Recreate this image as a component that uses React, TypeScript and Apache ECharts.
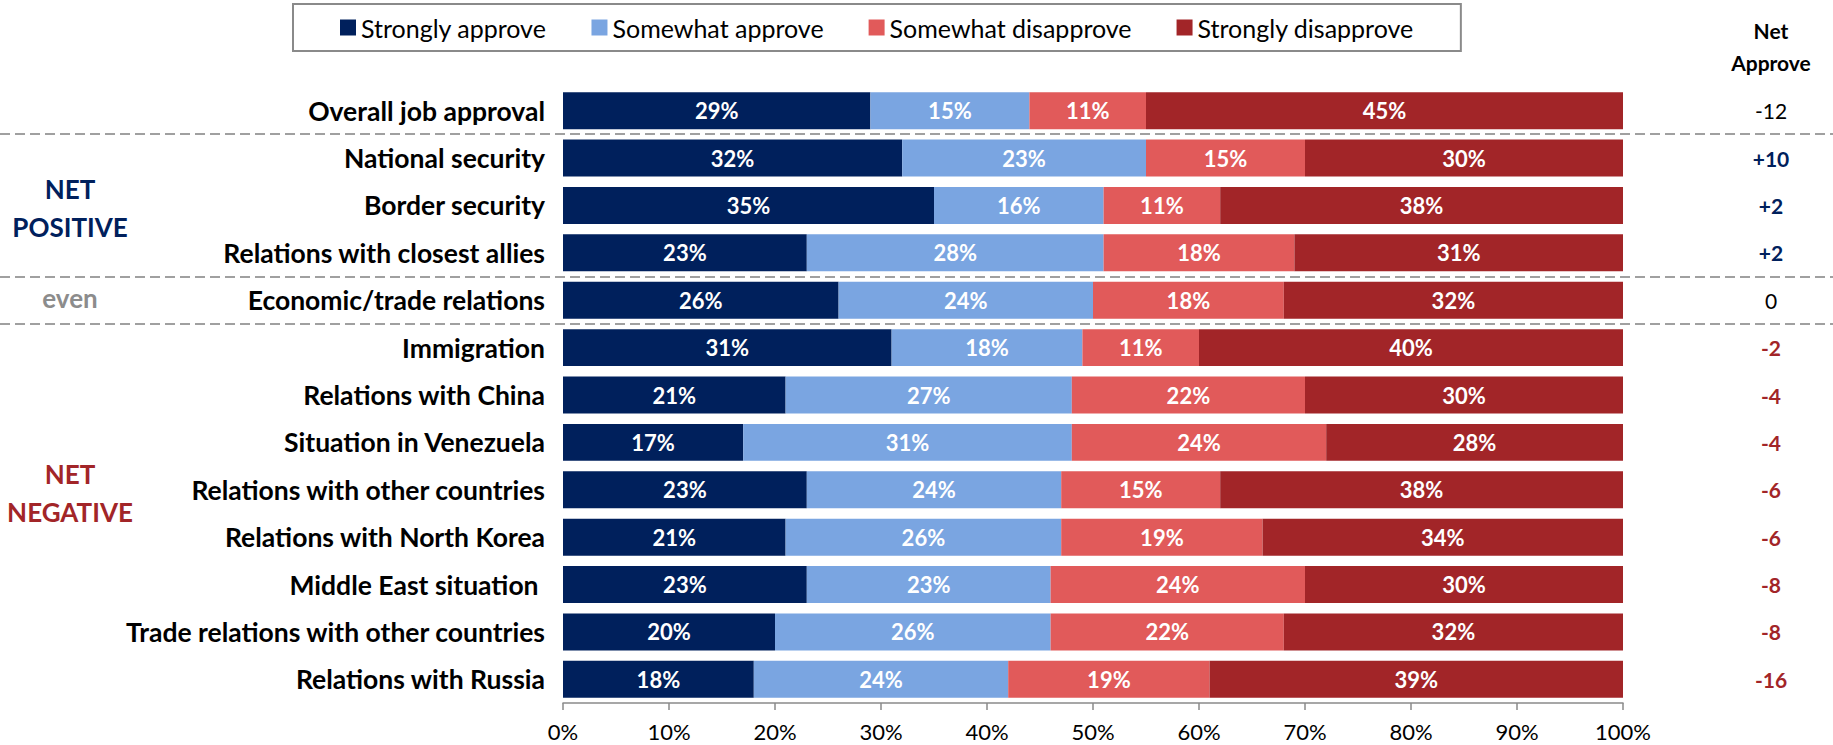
import React, { useEffect, useRef } from "react";
import * as echarts from "echarts";

const categories = [
  "Overall job approval",
  "National security",
  "Border security",
  "Relations with closest allies",
  "Economic/trade relations",
  "Immigration",
  "Relations with China",
  "Situation in Venezuela",
  "Relations with other countries",
  "Relations with North Korea",
  "Middle East situation ",
  "Trade relations with other countries",
  "Relations with Russia",
];
const stronglyApprove = [29, 32, 35, 23, 26, 31, 21, 17, 23, 21, 23, 20, 18];
const somewhatApprove = [15, 23, 16, 28, 24, 18, 27, 31, 24, 26, 23, 26, 24];
const somewhatDisapprove = [11, 15, 11, 18, 18, 11, 22, 24, 15, 19, 24, 22, 19];
const stronglyDisapprove = [45, 30, 38, 31, 32, 40, 30, 28, 38, 34, 30, 32, 39];
const netApprove = [-12, 10, 2, 2, 0, -2, -4, -4, -6, -6, -8, -8, -16];
const seriesNames = ["Strongly approve", "Somewhat approve", "Somewhat disapprove", "Strongly disapprove"];
const seriesColors = ["#00205C", "#7AA5E1", "#E15A5A", "#A22528"];
const separatorAfterRows = [0, 3, 4];
const groupLabels = [
  { text: "NET\nPOSITIVE", row: 2, color: "#00205C", dy: 3 },
  { text: "even", row: 4, color: "#8C8C8C", dy: -2 },
  { text: "NET\nNEGATIVE", row: 8, color: "#A22528", dy: 3 },
];

const FONT = "Lato, 'Open Sans', sans-serif";

export default function App() {
  const ref = useRef<HTMLDivElement>(null);
  useEffect(() => {
    document.body.style.margin = "0";
    const chart = echarts.init(ref.current!, null, { renderer: "svg" });
    const values = [stronglyApprove, somewhatApprove, somewhatDisapprove, stronglyDisapprove];
    const netLabels = netApprove.map((v) => (v > 0 ? "+" + v : String(v)));
    chart.setOption({
      animation: false,
      textStyle: { fontFamily: FONT },
      legend: {
        data: seriesNames,
        left: 293,
        top: 4,
        padding: [11, 47],
        borderColor: "#8A8A8A",
        borderWidth: 2,
        icon: "rect",
        itemWidth: 16,
        itemHeight: 16,
        itemGap: 45,
        selectedMode: false,
        textStyle: { fontSize: 25, color: "#000", fontFamily: FONT },
      },
      grid: { left: 563, right: 210, top: 87, bottom: 42, containLabel: false },
      xAxis: {
        type: "value",
        min: 0,
        max: 100,
        interval: 10,
        axisLine: { show: true, lineStyle: { color: "#8A8A8A", width: 1.5 } },
        axisTick: { show: true, length: 7, lineStyle: { color: "#8A8A8A", width: 1.5 } },
        axisLabel: { formatter: "{value}%", color: "#000", fontSize: 22, margin: 17, fontFamily: FONT },
        splitLine: { show: false },
      },
      yAxis: [
        {
          type: "category",
          data: categories,
          inverse: true,
          axisLine: { show: false },
          axisTick: { show: false },
          axisLabel: {
            interval: 0,
            margin: 18,
            color: "#000",
            fontWeight: "bold",
            fontSize: 26.5,
            fontFamily: FONT,
          },
        },
        {
          type: "category",
          data: netLabels,
          inverse: true,
          position: "right",
          axisLine: { show: false },
          axisTick: { show: false },
          axisLabel: {
            interval: 0,
            margin: 148,
            align: "center",
            fontFamily: FONT,
            formatter: (v: string, i: number) => {
              const n = netApprove[i];
              if (i === 0 || n === 0) return "{plain|" + v + "}";
              return n > 0 ? "{pos|" + v + "}" : "{neg|" + v + "}";
            },
            rich: {
              plain: { color: "#000", fontSize: 21, fontFamily: FONT },
              pos: { color: "#00205C", fontSize: 21, fontWeight: "bold", fontFamily: FONT },
              neg: { color: "#A22528", fontSize: 21, fontWeight: "bold", fontFamily: FONT },
            },
          },
        },
      ],
      series: seriesNames.map((name, k) => ({
        name,
        type: "bar",
        stack: "total",
        yAxisIndex: 0,
        data: values[k],
        barCategoryGap: "22%",
        itemStyle: { color: seriesColors[k] },
        label: {
          show: true,
          position: "inside",
          formatter: "{c}%",
          color: "#fff",
          fontWeight: "bold",
          fontSize: 22,
          fontFamily: FONT,
        },
      })),
    });

    const rowY = (i: number) => chart.convertToPixel({ yAxisIndex: 0 }, i) as number;
    const graphics: any[] = [];
    separatorAfterRows.forEach((r) => {
      const y = Math.round((rowY(r) + rowY(r + 1)) / 2);
      graphics.push({
        type: "line",
        shape: { x1: 0, y1: y, x2: 1833, y2: y },
        style: { stroke: "#A0A0A0", lineWidth: 2, lineDash: [10, 5] },
        z: 0,
      });
    });
    groupLabels.forEach((g) => {
      graphics.push({
        type: "text",
        x: 70,
        y: rowY(g.row) + g.dy,
        style: {
          text: g.text,
          fill: g.color,
          font: "bold 26px " + FONT,
          lineHeight: 38,
          textAlign: "center",
          textVerticalAlign: "middle",
        },
      });
    });
    graphics.push({
      type: "text",
      x: 1771,
      y: 46,
      style: {
        text: "Net\nApprove",
        fill: "#000",
        font: "bold 21px " + FONT,
        lineHeight: 32,
        textAlign: "center",
        textVerticalAlign: "middle",
      },
    });
    chart.setOption({ graphic: graphics });

    return () => chart.dispose();
  }, []);
  return <div ref={ref} style={{ position: "absolute", left: 0, top: 0, width: 1833, height: 745 }} />;
}
